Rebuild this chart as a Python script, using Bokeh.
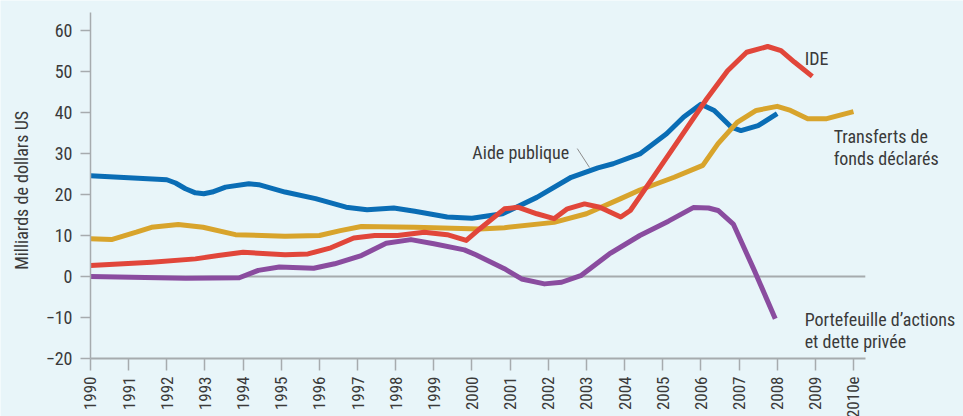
import math
from bokeh.plotting import figure
from bokeh.models import Range1d, FixedTicker, Label
from bokeh.embed import file_html
from bokeh.resources import INLINE

# ---------------- data ----------------
aide_years = [1990, 1991, 1992, 1992.23, 1992.49, 1992.75, 1992.97, 1993.19, 1993.54,
              1994.15, 1994.41, 1995.1, 1995.9, 1996.7, 1997.25, 1997.95, 1998.5,
              1999.35, 2000, 2000.8, 2001.7, 2002.6, 2003.3, 2003.7, 2004.4, 2005.1,
              2005.55, 2006, 2006.35, 2006.8, 2007.05, 2007.5, 2008]
aide = [24.6, 24.1, 23.6, 22.8, 21.4, 20.4, 20.2, 20.6, 21.8,
        22.6, 22.4, 20.6, 19.0, 16.9, 16.3, 16.7, 15.9,
        14.5, 14.2, 15.3, 19.3, 24.2, 26.5, 27.5, 29.9, 34.8,
        38.9, 42.0, 40.5, 36.4, 35.6, 36.8, 39.7]

transferts_years = [1990, 1990.55, 1991.2, 1991.6, 1992.3, 1992.95, 1993.8, 1995.1, 1996.0,
                    1996.55, 1997.1, 1998.5, 2000.2, 2000.85, 2002.15, 2003.0, 2003.9,
                    2004.4, 2005.3, 2006.05, 2006.45, 2006.95, 2007.45, 2008.0, 2008.35,
                    2008.8, 2009.3, 2010]
transferts = [9.2, 9.0, 10.8, 12.0, 12.7, 12.0, 10.2, 9.8, 10.0,
              11.2, 12.2, 12.0, 11.6, 11.9, 13.2, 15.3, 19.0,
              21.1, 24.2, 27.1, 32.4, 37.6, 40.5, 41.5, 40.5,
              38.5, 38.5, 40.2]

ide_years = [1990, 1991.6, 1992.75, 1993.35, 1994.0, 1995.1, 1995.7, 1996.3, 1996.9,
             1997.45, 1998.05, 1998.75, 1999.35, 1999.85, 2000.2, 2000.85, 2001.2,
             2001.7, 2002.15, 2002.5, 2002.95, 2003.35, 2003.9, 2004.15, 2004.55,
             2005.25, 2006.15, 2006.7, 2007.2, 2007.75, 2008.1, 2008.45, 2008.92]
ide = [2.7, 3.5, 4.3, 5.1, 5.9, 5.3, 5.5, 7.0, 9.4,
       10.0, 10.0, 10.8, 10.2, 8.8, 11.6, 16.5, 16.9,
       15.3, 14.1, 16.5, 17.7, 16.9, 14.5, 16.1, 21.5,
       31.0, 43.3, 50.2, 54.7, 56.1, 55.1, 52.3, 48.8]

port_years = [1990, 1992.5, 1993.9, 1994.4, 1994.95, 1995.85, 1996.4, 1997.1, 1997.75,
              1998.4, 1999.0, 1999.8, 2000.1, 2000.85, 2001.3, 2001.9, 2002.35, 2002.85,
              2003.6, 2004.4, 2005.15, 2005.8, 2006.2, 2006.45, 2006.85, 2007.4, 2007.95]
port = [0.0, -0.4, -0.3, 1.5, 2.3, 2.0, 3.1, 5.1, 8.1,
        9.0, 8.0, 6.5, 5.3, 1.9, -0.6, -1.8, -1.4, 0.2,
        5.5, 10.0, 13.5, 16.8, 16.7, 16.1, 12.8, 1.5, -10.3]

x_ticks = list(range(1990, 2011))
x_tick_labels = {2010: "2010e"}
y_ticks = [-20, -10, 0, 10, 20, 30, 40, 50, 60]
y_tick_labels = {-20: "\u221220", -10: "\u221210"}
y_title = "Milliards de dollars US"

# ---------------- style ----------------
FONT = "Roboto Condensed, DejaVu Sans Condensed, Roboto"
BG = "#E8F5F9"
AXIS = "#A6ABAE"
TXT = "#3A3A3A"
C_AIDE = "#0A6DB5"
C_TRANS = "#D8A42C"
C_IDE = "#E1463A"
C_PORT = "#8A4C9F"

p = figure(width=963, height=416, output_backend="svg", toolbar_location=None,
           x_range=Range1d(1987.641, 2012.884), y_range=Range1d(-34.146, 67.317),
           min_border_left=0, min_border_right=0, min_border_top=0,
           min_border_bottom=0)
p.background_fill_color = BG
p.border_fill_color = BG
p.outline_line_color = None
p.grid.visible = False

# x axis (fixed at -20)
xa = p.xaxis[0]
xa.fixed_location = -20
xa.bounds = (1990, 2010.31)
xa.ticker = FixedTicker(ticks=x_ticks)
xa.major_label_overrides = x_tick_labels
xa.major_label_orientation = math.pi / 2
xa.major_tick_out = 12
xa.major_tick_in = 0
xa.minor_tick_line_color = None
xa.axis_line_color = AXIS
xa.axis_line_width = 2
xa.major_tick_line_color = AXIS
xa.major_tick_line_width = 1.5
xa.major_label_standoff = 6
xa.major_label_text_font = FONT
xa.major_label_text_font_size = "17px"
xa.major_label_text_color = TXT

# y axis (fixed at 1990)
ya = p.yaxis[0]
ya.fixed_location = 1990
ya.bounds = (-20, 64.4)
ya.ticker = FixedTicker(ticks=y_ticks)
ya.major_label_overrides = y_tick_labels
ya.major_tick_out = 10
ya.major_tick_in = 0
ya.minor_tick_line_color = None
ya.axis_line_color = AXIS
ya.axis_line_width = 1.5
ya.major_tick_line_color = AXIS
ya.major_tick_line_width = 1.5
ya.major_label_standoff = 8
ya.major_label_text_font = FONT
ya.major_label_text_font_size = "18px"
ya.major_label_text_color = TXT

# y axis title
p.add_layout(Label(x=1988.19, y=21.0, text=y_title, angle=math.pi / 2,
                   text_font=FONT, text_font_size="18px", text_color=TXT,
                   text_align="center", text_baseline="middle"))

# zero line
p.segment(x0=[1990], y0=[0], x1=[2010.31], y1=[0], line_color=AXIS, line_width=2)

# series
p.line(aide_years, aide, line_color=C_AIDE, line_width=5, line_join="round")
p.line(port_years, port, line_color=C_PORT, line_width=5, line_join="round")
p.line(transferts_years, transferts, line_color=C_TRANS, line_width=5, line_join="round")
p.line(ide_years, ide, line_color=C_IDE, line_width=5, line_join="round")

# leader line for "Aide publique"
p.segment(x0=[2002.76], y0=[31.2], x1=[2003.08], y1=[26.6], line_color="#8C8C8C", line_width=1)

def lab(x, y, t):
    p.add_layout(Label(x=x, y=y, text=t, text_font=FONT, text_font_size="18px",
                       text_color=TXT, text_baseline="alphabetic", text_align="left"))

lab(2000.01, 30.3, "Aide publique")
lab(2008.72, 53.2, "IDE")
lab(2009.48, 34.15, "Transferts de")
lab(2009.48, 28.7, "fonds déclarés")
lab(2008.72, -10.56, "Portefeuille d\u2019actions")
lab(2008.72, -15.8, "et dette privée")

open("out.html", "w").write(file_html(p, INLINE))
